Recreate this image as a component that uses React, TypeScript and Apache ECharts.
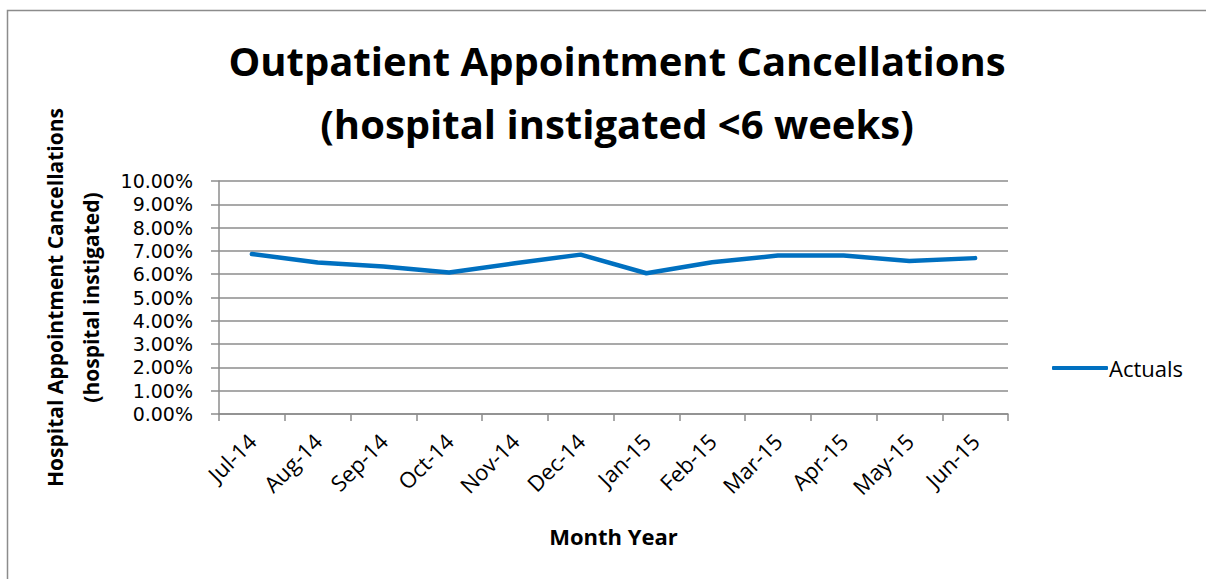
import React, { useEffect, useRef } from "react";
import * as echarts from "echarts";

const categories = ["Jul-14", "Aug-14", "Sep-14", "Oct-14", "Nov-14", "Dec-14", "Jan-15", "Feb-15", "Mar-15", "Apr-15", "May-15", "Jun-15"];
const actuals = [0.0687, 0.065, 0.0633, 0.0607, 0.0647, 0.0684, 0.0604, 0.0651, 0.068, 0.068, 0.0657, 0.0669];
const titleLines = ["Outpatient Appointment Cancellations", "(hospital instigated <6 weeks)"];
const yAxisTitle = "Hospital Appointment Cancellations\n(hospital instigated)";
const xAxisTitle = "Month Year";
const seriesName = "Actuals";

const FONT = "'Open Sans', 'Noto Sans', sans-serif";
const TICK_FONT = "'DejaVu Sans', 'Liberation Sans', sans-serif";

export default function App() {
  const ref = useRef<HTMLDivElement>(null);
  useEffect(() => {
    document.body.style.margin = "0";
    const chart = echarts.init(ref.current!, null, { renderer: "svg" });
    chart.setOption({
      animation: false,
      backgroundColor: "#ffffff",
      textStyle: { fontFamily: FONT },
      title: {
        text: titleLines.join("\n"),
        left: 612,
        top: 24,
        textAlign: "center",
        textStyle: { fontFamily: FONT, fontSize: 40, fontWeight: "bold", color: "#000", lineHeight: 63 },
      },
      legend: {
        data: [seriesName],
        left: 1047,
        top: 352,
        itemWidth: 56,
        itemHeight: 4,
        itemGap: 4,
        icon: "roundRect",
        textStyle: { fontFamily: FONT, fontSize: 22, color: "#000", padding: [0, 0, 0, -4] },
      },
      grid: { left: 219, right: 198, top: 181, bottom: 165, containLabel: false },
      xAxis: {
        type: "category",
        data: categories,
        boundaryGap: true,
        name: xAxisTitle,
        nameLocation: "middle",
        nameGap: 111,
        nameTextStyle: { fontFamily: FONT, fontSize: 22, fontWeight: "bold", color: "#000" },
        axisLine: { lineStyle: { color: "#8c8c8c", width: 1.5 } },
        axisTick: { show: true, alignWithLabel: false, length: 7, lineStyle: { color: "#8c8c8c", width: 1.5 } },
        axisLabel: { rotate: 45, fontFamily: FONT, fontSize: 22, color: "#000", margin: 23, interval: 0, lineHeight: 18 },
      },
      yAxis: {
        type: "value",
        min: 0,
        max: 0.1,
        interval: 0.01,
        name: yAxisTitle,
        nameLocation: "middle",
        nameGap: 110,
        nameRotate: 90,
        nameTextStyle: { fontFamily: FONT, fontSize: 21, fontWeight: "bold", color: "#000", lineHeight: 36 },
        axisLine: { show: true, lineStyle: { color: "#8c8c8c", width: 1.5 } },
        axisTick: { show: true, length: 8, lineStyle: { color: "#8c8c8c", width: 1.5 } },
        axisLabel: {
          fontFamily: TICK_FONT,
          fontSize: 19,
          lineHeight: 20,
          color: "#000",
          margin: 26,
          formatter: (v: number) => (v * 100).toFixed(2) + "%",
        },
        splitLine: { show: true, lineStyle: { color: "#8c8c8c", width: 1.5 } },
      },
      series: [
        {
          name: seriesName,
          type: "line",
          data: actuals,
          showSymbol: false,
          symbol: "none",
          lineStyle: { color: "#0070c0", width: 4.5, cap: "round", join: "round" },
          itemStyle: { color: "#0070c0" },
        },
      ],
      graphic: [
        {
          type: "polyline",
          silent: true,
          shape: { points: [[7.5, 600], [7.5, 10.5], [1210, 10.5]] },
          style: { stroke: "#8c8c8c", lineWidth: 1.5, fill: null },
        },
      ],
    });
    return () => chart.dispose();
  }, []);
  return <div ref={ref} style={{ width: 1206, height: 579 }} />;
}
